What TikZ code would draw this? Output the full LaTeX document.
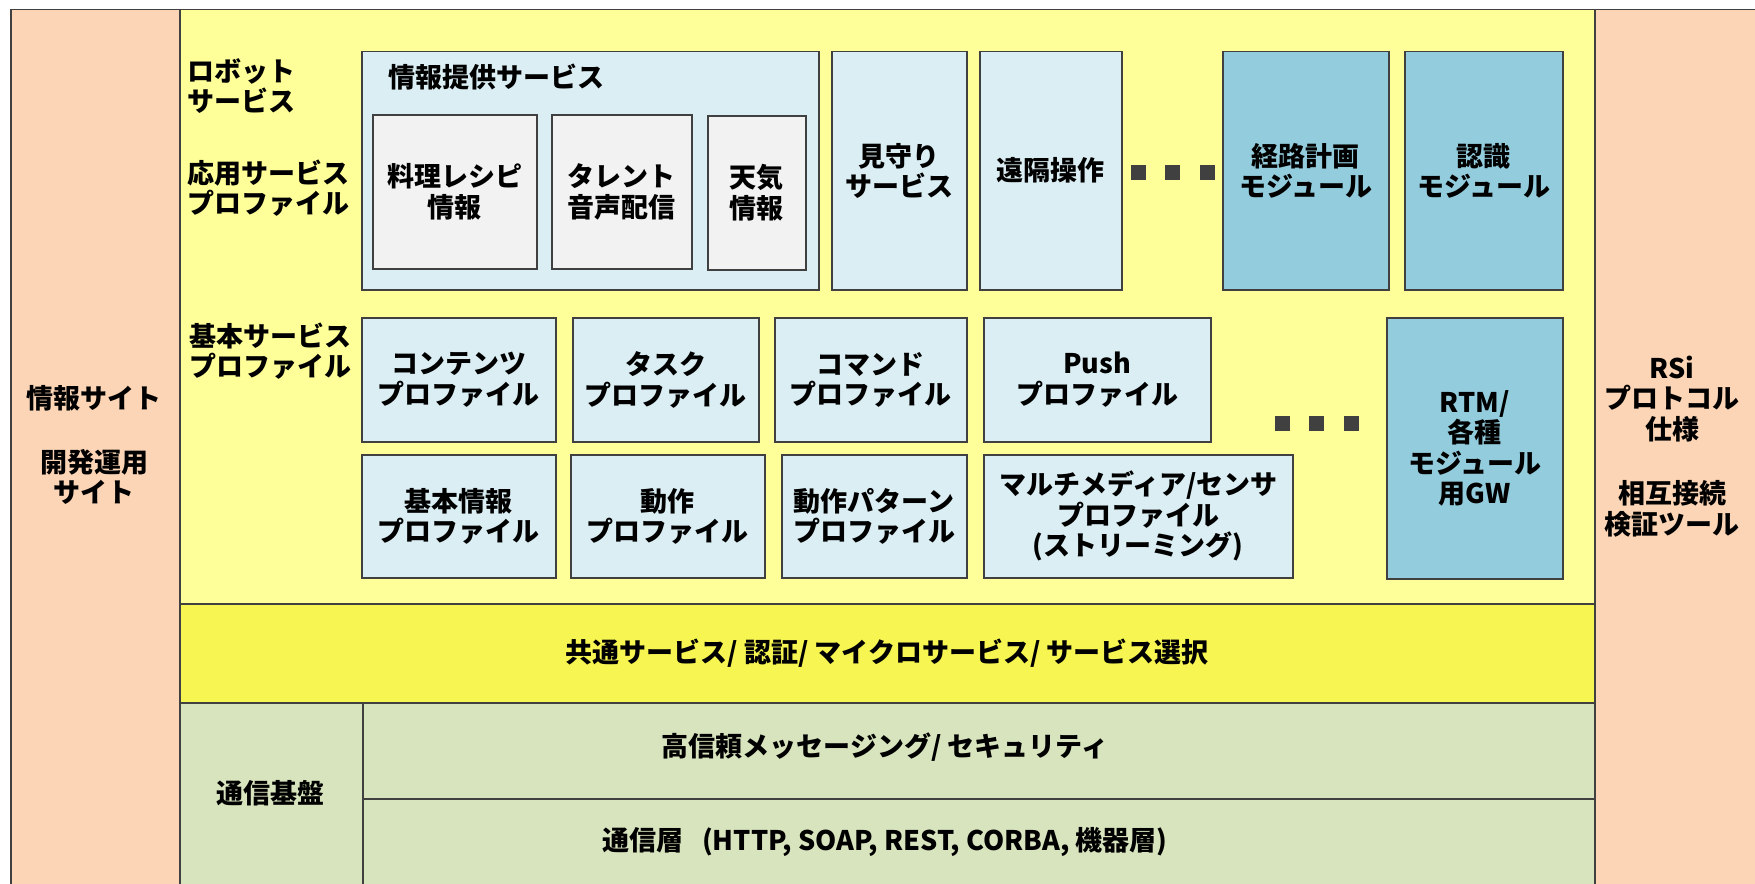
\documentclass[tikz,border=0pt]{standalone}
\usepackage{fontspec}
\setmainfont{Noto Sans CJK JP}
\definecolor{peach}{HTML}{FBD5B5}
\definecolor{ylw}{HTML}{FFFF99}
\definecolor{ylwtwo}{HTML}{F6F552}
\definecolor{grn}{HTML}{D7E4BD}
\definecolor{lblue}{HTML}{DAEEF3}
\definecolor{lgrey}{HTML}{F2F2F2}
\definecolor{mblue}{HTML}{93CDDD}
\definecolor{edge}{HTML}{404040}
\tikzset{
 base/.style={draw=edge, line width=1.5pt, inner sep=0pt, align=center, font=\fontsize{27}{30.5}\selectfont\bfseries},
 svc/.style={base, fill=lblue},
 subsvc/.style={base, fill=lgrey},
 modbox/.style={base, fill=mblue},
 lbl/.style={inner sep=0pt, font=\fontsize{27}{30.5}\selectfont\bfseries},
 sq/.style={fill=edge, minimum size=15pt, inner sep=0pt},
}
\newcommand\bx[7]{\node[#2, anchor=north west, minimum width={(#5-#3)*1pt}, minimum height={(#6-#4)*1pt}] (#1) at (#3,#4) {#7};}
\begin{document}
\begin{tikzpicture}[x=1pt,y=-1pt]
\clip (0,0) rectangle (1755,883);
\fill[white] (0,0) rectangle (1755,883);
% columns
\bx{leftcol}{base, fill=peach}{10}{9}{179}{900}{}
\bx{rightcol}{base, fill=peach}{1594}{9}{1775}{900}{}
\bx{main}{base, fill=ylw}{179}{9}{1594}{603}{}
\bx{common}{base, fill=ylwtwo}{179}{603}{1594}{702}{共通サービス/ 認証/ マイクロサービス/ サービス選択}
\bx{commbase}{base, fill=grn}{179}{702}{362}{900}{}
\bx{msg}{base, fill=grn}{362}{702}{1594}{798}{}
\bx{layer}{base, fill=grn}{362}{798}{1594}{900}{}
\node[lbl] (commbaselbl) at (270,793) {通信基盤};
\node[lbl] (msglbl) at (885,747) {高信頼メッセージング/ セキュリティ};
\node[lbl] (layerlbl) at (885,842) {通信層\hspace{0.7em}(HTTP, SOAP, REST, CORBA, 機器層)};
% side labels
\node[lbl, align=center] (infosite) at (94,398) {情報サイト};
\node[lbl, align=center] (devsite) at (94,477) {開発運用\\サイト};
\node[lbl, align=center] (rsi) at (1672,399) {RSi\\プロトコル\\仕様};
\node[lbl, align=center] (verify) at (1672,509) {相互接続\\検証ツール};
% row labels
\node[lbl, align=left, anchor=west] (robotlbl) at (187,86) {ロボット\\サービス};
\node[lbl, align=left, anchor=west] (applbl) at (187,188) {応用サービス\\プロファイル};
\node[lbl, align=left, anchor=west] (basiclbl) at (189,351) {基本サービス\\プロファイル};
% application services
\bx{info}{svc}{361}{51}{818}{289}{}
\node[lbl, anchor=west] (infolbl) at (388,77) {情報提供サービス};
\bx{recipe}{subsvc}{372}{114}{536}{268}{料理レシピ\\情報}
\bx{talent}{subsvc}{551}{114}{691}{268}{タレント\\音声配信}
\bx{weather}{subsvc}{707}{115}{805}{269}{天気\\情報}
\bx{watch}{svc}{831}{51}{966}{289}{見守り\\サービス}
\bx{remote}{svc}{979}{51}{1121}{289}{遠隔操作}
\node[sq] (da) at (1138,172.5) {};
\node[sq] (db) at (1172,172.5) {};
\node[sq] (dc) at (1207,172.5) {};
\bx{route}{modbox}{1222}{51}{1388}{289}{経路計画\\モジュール}
\bx{recog}{modbox}{1404}{51}{1562}{289}{認識\\モジュール}
% basic services
\bx{contents}{svc}{361}{317}{555}{441}{コンテンツ\\プロファイル}
\bx{task}{svc}{572}{317}{758}{441}{タスク\\プロファイル}
\bx{command}{svc}{774}{317}{966}{441}{コマンド\\プロファイル}
\bx{push}{svc}{983}{317}{1210}{441}{Push\\プロファイル}
\bx{basicinfo}{svc}{361}{454}{555}{577}{基本情報\\プロファイル}
\bx{motion}{svc}{570}{454}{764}{577}{動作\\プロファイル}
\bx{pattern}{svc}{781}{454}{966}{577}{動作パターン\\プロファイル}
\bx{media}{svc}{983}{454}{1292}{577}{マルチメディア/センサ\\プロファイル\\(ストリーミング)}
\node[sq] (dd) at (1282,423) {};
\node[sq] (de) at (1316,423) {};
\node[sq] (df) at (1351,423) {};
\bx{rtm}{modbox}{1386}{317}{1562}{578}{RTM/\\各種\\モジュール\\用GW}
\end{tikzpicture}
\end{document}
